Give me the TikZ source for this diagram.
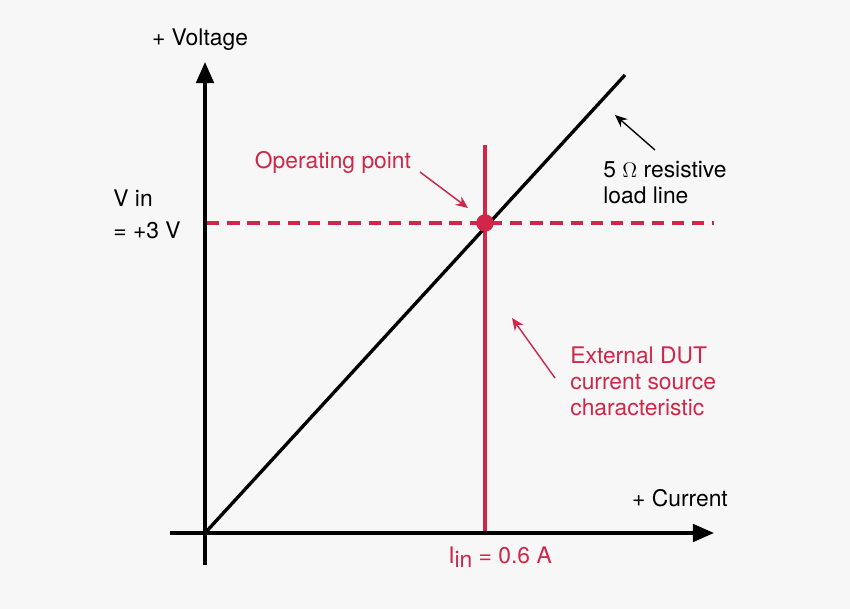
\documentclass[tikz,border=0pt]{standalone}
\usepackage{fontspec}
\setmainfont{TeX Gyre Heros}
\usetikzlibrary{arrows.meta}
\definecolor{dred}{HTML}{D0264A}
\definecolor{bg}{HTML}{F7F7F7}
\begin{document}
\begin{tikzpicture}[x=0.02cm,y=-0.02cm,
  lbl/.style={font=\fontsize{13}{15}\selectfont,inner sep=0pt},
  axis/.style={line width=1.9pt,-{Triangle[length=12pt,width=10pt]}},
  note/.style={line width=0.8pt,-{Stealth[length=7pt,width=6pt]}}]
\fill[bg] (0,0) rectangle (850,609);
\useasboundingbox (0,0) rectangle (850,609);
\coordinate (o) at (205,533);
\coordinate (ybot) at (205,565);
\coordinate (ytop) at (205,62);
\coordinate (xl) at (170,533);
\coordinate (xr) at (714,533);
\coordinate (lend) at (625,75);
\coordinate (vt) at (485,145);
\coordinate (vb) at (485,533);
\coordinate (hl) at (207,223);
\coordinate (hr) at (714,223);
\draw[dred,line width=1.9pt] (vt) -- (vb);
\draw[dred,line width=1.9pt,dash pattern=on 7pt off 4.5pt] (hl) -- (hr);
\draw[axis] (ybot) -- (ytop);
\draw[axis] (xl) -- (xr);
\draw[line width=1.9pt] (o) -- (lend);
\node[circle,fill=dred,minimum size=10pt,inner sep=0pt] (op) at (485,223) {};
\node[lbl] (vlab) at (200,40) {+ Voltage};
\node[lbl,anchor=west] (vin1) at (113,198) {V in};
\node[lbl,anchor=west] (vin2) at (113,230) {= +3 V};
\node[lbl,text=dred] (opl) at (333,162) {Operating point};
\node[lbl,anchor=north west,align=left] (ll) at (603,161) {5 $\Omega$ resistive\\load line};
\node[lbl,anchor=north west,align=left,text=dred] (dut) at (570,346) {External DUT\\current source\\characteristic};
\node[lbl] (cur) at (680,498) {+ Current};
\node[lbl,text=dred] (iin) at (500,557) {I\raisebox{-0.35ex}{in} = 0.6 A};
\coordinate (a1s) at (420,172); \coordinate (a1e) at (468,208);
\coordinate (a2s) at (655,150); \coordinate (a2e) at (615,115);
\coordinate (a3s) at (555,378); \coordinate (a3e) at (512,318);
\draw[note,dred] (a1s) -- (a1e);
\draw[note] (a2s) -- (a2e);
\draw[note,dred] (a3s) -- (a3e);
\end{tikzpicture}
\end{document}
